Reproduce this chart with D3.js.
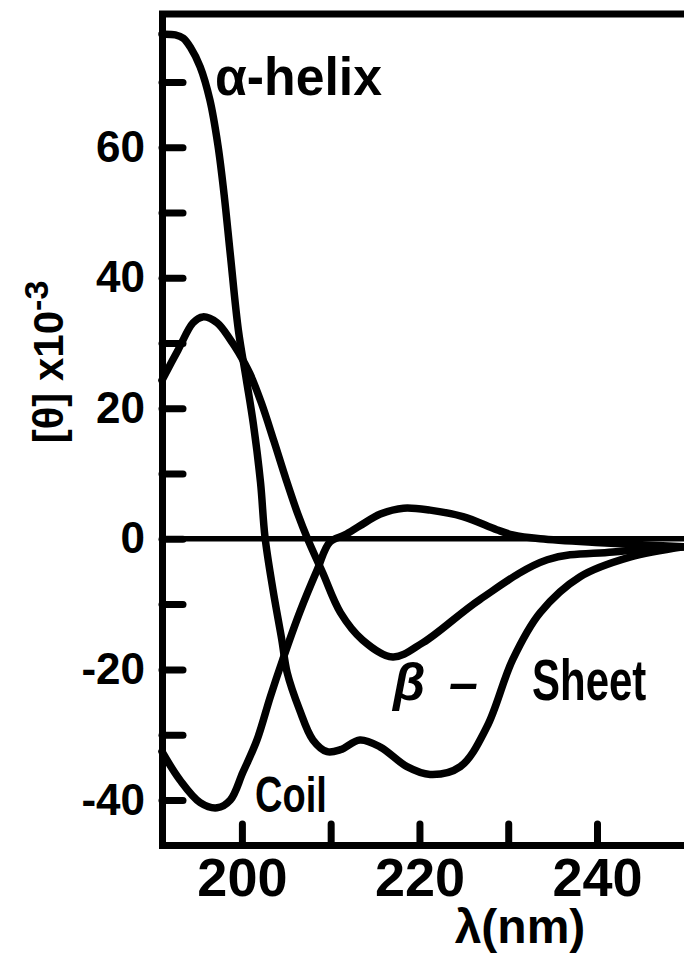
<!DOCTYPE html>
<html>
<head>
<meta charset="utf-8">
<script src="https://cdn.jsdelivr.net/npm/d3@7"></script>
<style>
  html, body { margin: 0; padding: 0; background: #fff; }
  svg { display: block; }
  text { fill: #000; }
</style>
</head>
<body>
<svg id="chart" width="684" height="962"></svg>
<script>
// Mean residue ellipticity [θ]×10⁻³ versus wavelength (nm)
const helixNm    = [191.0, 192.5, 193.4, 194.2, 195.3, 196.4, 197.3, 198.0, 198.7, 199.6, 200.5, 201.3, 202.1, 202.6, 203.5, 204.5, 205.1, 206.5, 208.0, 209.6, 211.1, 213.3, 215.6, 218.6, 221.2, 224.6, 227.6, 230.5, 233.6, 238.1, 243.7, 249.8];
const helixTheta = [77.3, 77.2, 76.7, 75.3, 72.3, 67.2, 60.3, 52.7, 43.5, 32.0, 24.4, 17.5, 8.6, 0.3, -7.8, -15.5, -20.5, -26.2, -30.8, -32.6, -32.3, -30.8, -31.9, -34.9, -36.1, -34.9, -28.8, -18.5, -11.3, -5.8, -2.8, -1.2];

const sheetNm    = [191.0, 192.8, 194.5, 195.6, 197.2, 198.7, 199.6, 200.9, 202.2, 203.6, 205.0, 206.3, 207.4, 209.1, 211.1, 213.6, 217.0, 220.4, 226.8, 234.4, 241.8, 249.8];
const sheetTheta = [24.3, 28.9, 33.1, 34.0, 33.1, 30.5, 28.6, 25.3, 20.8, 15.0, 9.0, 3.8, 0.0, -5.2, -11.3, -15.5, -18.1, -15.9, -9.3, -3.2, -2.0, -1.2];

const coilNm     = [191.0, 193.0, 195.3, 197.2, 198.7, 200.1, 201.7, 203.2, 204.6, 206.5, 208.5, 209.9, 211.6, 213.3, 215.6, 218.2, 221.2, 224.9, 228.7, 230.5, 233.6, 240.4, 249.8];
const coilTheta  = [-32.6, -36.9, -40.4, -41.2, -40.0, -35.8, -30.8, -24.2, -18.5, -11.3, -4.7, -0.5, 0.6, 2.0, 3.8, 4.7, 4.4, 3.4, 1.4, 0.6, 0.0, -0.6, -1.2];

const xTicks       = [200, 210, 220, 230, 240];
const xTickLabels  = ["200", "", "220", "", "240"];
const yTicks       = [-40, -30, -20, -10, 0, 10, 20, 30, 40, 50, 60, 70];
const yTickLabels  = ["-40", "", "-20", "", "0", "", "20", "", "40", "", "60", ""];

const xDomain = [191, 249.8];
const yDomain = [-46.9, 80.4];

const svg = d3.select("#chart");
const plotLeft = 162, plotRight = 684, plotTop = 14, plotBottom = 845;

const x = d3.scaleLinear().domain(xDomain).range([plotLeft, plotRight]);
const y = d3.scaleLinear().domain(yDomain).range([plotBottom, plotTop]);

const ink = "#000";
const sans = "'Liberation Sans', Arial, sans-serif";

// frame top edge
svg.append("line")
  .attr("x1", plotLeft - 3).attr("x2", plotRight)
  .attr("y1", plotTop).attr("y2", plotTop)
  .attr("stroke", ink).attr("stroke-width", 7);

// zero baseline
svg.append("line")
  .attr("x1", plotLeft).attr("x2", plotRight)
  .attr("y1", y(0)).attr("y2", y(0))
  .attr("stroke", ink).attr("stroke-width", 5.5);

// y axis, ticks pointing inward
const yAxis = d3.axisLeft(y)
  .tickValues(yTicks)
  .tickFormat((d, i) => yTickLabels[i])
  .tickSize(-21)
  .tickSizeOuter(0)
  .tickPadding(17);

const gy = svg.append("g").attr("transform", `translate(${plotLeft},0)`).call(yAxis);
gy.select(".domain").attr("stroke", ink).attr("stroke-width", 7).attr("stroke-linecap", "square");
gy.selectAll(".tick line").attr("stroke", ink).attr("stroke-width", 7).attr("stroke-linecap", "round");
gy.selectAll(".tick text")
  .attr("font-family", sans).attr("font-weight", "bold").attr("font-size", 44).attr("fill", ink);

// x axis, ticks pointing inward
const xAxis = d3.axisBottom(x)
  .tickValues(xTicks)
  .tickFormat((d, i) => xTickLabels[i])
  .tickSize(-21)
  .tickSizeOuter(0)
  .tickPadding(13);

const gx = svg.append("g").attr("transform", `translate(0,${plotBottom})`).call(xAxis);
gx.select(".domain").attr("stroke", ink).attr("stroke-width", 7).attr("stroke-linecap", "square");
gx.selectAll(".tick line").attr("stroke", ink).attr("stroke-width", 7).attr("stroke-linecap", "round");
gx.selectAll(".tick text")
  .attr("font-family", sans).attr("font-weight", "bold").attr("font-size", 54).attr("fill", ink);

// spectra
const line = d3.line()
  .x(d => x(d[0]))
  .y(d => y(d[1]))
  .curve(d3.curveCatmullRom.alpha(0.5));

const series = [
  d3.zip(helixNm, helixTheta),
  d3.zip(sheetNm, sheetTheta),
  d3.zip(coilNm, coilTheta)
];

svg.append("g").selectAll("path")
  .data(series)
  .join("path")
  .attr("d", line)
  .attr("fill", "none")
  .attr("stroke", ink)
  .attr("stroke-width", 7.5)
  .attr("stroke-linejoin", "round")
  .attr("stroke-linecap", "round");

// curve labels
svg.append("text")
  .attr("x", 215).attr("y", 95)
  .attr("font-family", sans).attr("font-weight", "bold").attr("font-size", 54)
  .attr("textLength", 167).attr("lengthAdjust", "spacingAndGlyphs")
  .text("α-helix");

svg.append("text")
  .attr("x", 393).attr("y", 700)
  .attr("font-family", sans).attr("font-weight", "bold").attr("font-style", "italic").attr("font-size", 52)
  .attr("textLength", 85).attr("lengthAdjust", "spacing")
  .text("β –");

// tall, narrow lettering: stretched vertically around its baseline
svg.append("text")
  .attr("transform", "translate(532,700) scale(1,1.35)")
  .attr("font-family", sans).attr("font-weight", "bold").attr("font-size", 42)
  .text("Sheet");

svg.append("text")
  .attr("transform", "translate(255,812) scale(1,1.3)")
  .attr("font-family", sans).attr("font-weight", "bold").attr("font-size", 38)
  .text("Coil");

// axis titles
svg.append("text")
  .attr("x", 520).attr("y", 943)
  .attr("text-anchor", "middle")
  .attr("font-family", sans).attr("font-weight", "bold").attr("font-size", 48)
  .text("λ(nm)");

const yTitle = svg.append("text")
  .attr("transform", "translate(63,362) rotate(-90)")
  .attr("text-anchor", "middle")
  .attr("font-family", sans).attr("font-weight", "bold").attr("font-size", 42);
yTitle.append("tspan").text("[θ] x10");
yTitle.append("tspan").attr("dy", -15).attr("font-size", 34).text("-3");
</script>
</body>
</html>
